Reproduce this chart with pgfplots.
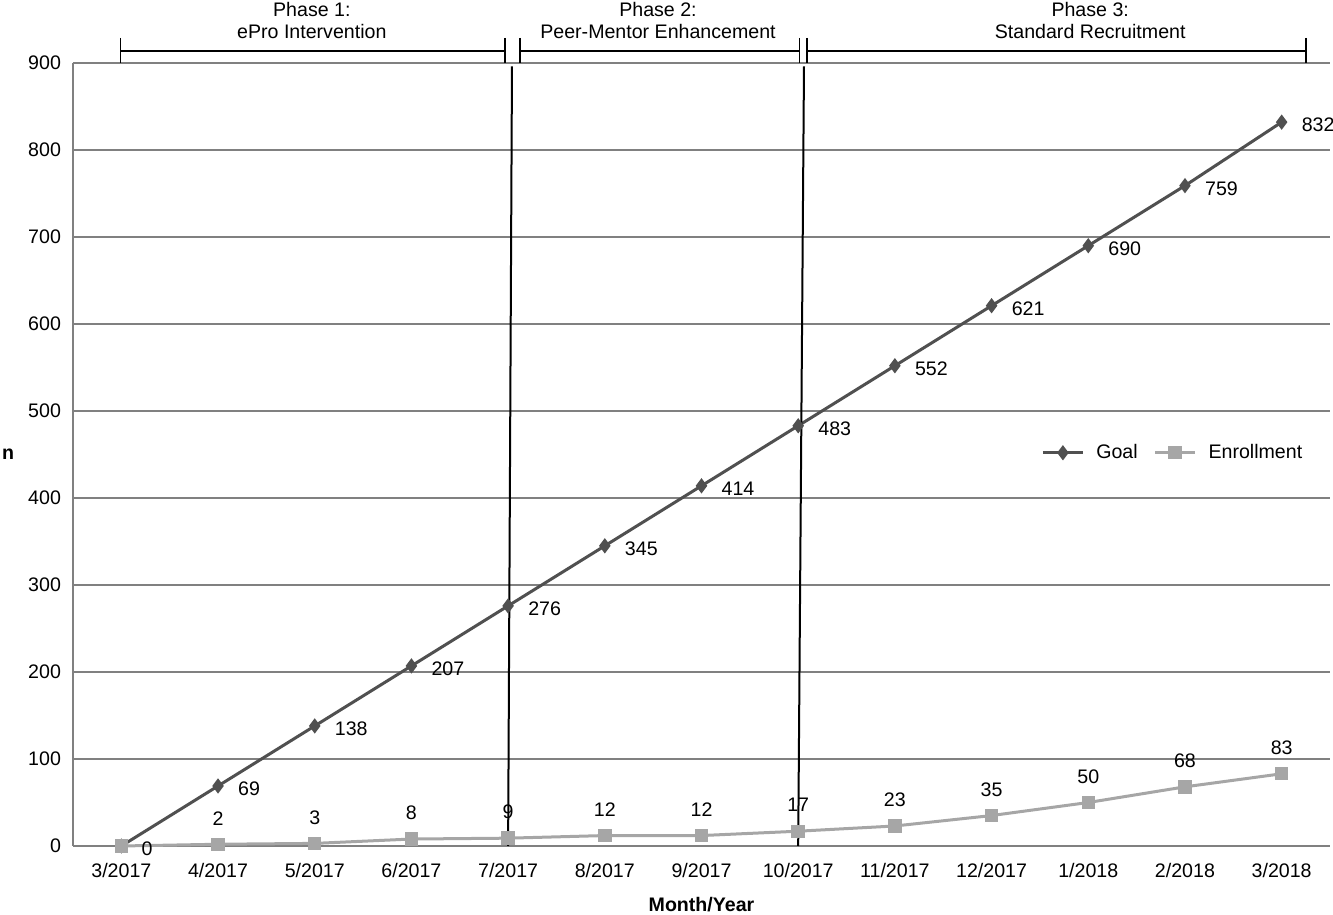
\documentclass[border=0pt]{standalone}
\usepackage{pgfplots}
\pgfplotsset{compat=1.18}
\usepackage{fontspec}
\setmainfont{Liberation Sans}
\definecolor{goalc}{HTML}{505050}
\definecolor{enrc}{HTML}{A6A6A6}
\definecolor{gridc}{HTML}{808080}
\begin{document}
\begin{tikzpicture}
\useasboundingbox (-36.5pt,-34.5pt) rectangle (630pt,423pt);
\begin{axis}[
  at={(0,0)}, anchor=south west,
  scale only axis, width=628.5pt, height=391.5pt,
  xmin=-0.5, xmax=12.5, ymin=0, ymax=900,
  xtick={0,...,12},
  xticklabels={3/2017,4/2017,5/2017,6/2017,7/2017,8/2017,9/2017,10/2017,11/2017,12/2017,1/2018,2/2018,3/2018},
  ytick={0,100,...,900},
  axis x line*=bottom, axis y line*=left,
  axis line style={gridc, line width=0.75pt, -},
  major tick length=0pt,
  ymajorgrids, grid style={gridc, line width=0.7pt},
  clip=false,
  font=\fontsize{9.8}{11}\selectfont,
  tick label style={font=\fontsize{9.8}{11}\selectfont},
  /pgf/number format/assume math mode=true,
  xticklabel style={anchor=center, yshift=-12pt},
  yticklabel style={anchor=east, xshift=-2.5pt},
  xlabel={\textbf{Month/Year}},
  xlabel style={at={(axis description cs:0.5,0)}, anchor=center, yshift=-29.5pt},
  legend style={at={(axis cs:9.45,452)}, anchor=west, draw=none, fill=none,
    legend columns=2, font=\fontsize{9.8}{11}\selectfont,
    /tikz/every even column/.append style={column sep=6pt},
    /tikz/every odd column/.append style={column sep=4pt}},
  legend image code/.code={\draw[mark repeat=2,mark phase=2] plot coordinates {(0cm,0cm) (0.35cm,0cm) (0.7cm,0cm)};},
  every node near coord/.append style={text=black, font=\fontsize{9.8}{11}\selectfont},
]
\addplot[goalc, line width=1.5pt, mark=diamond*, mark size=2.6pt, mark options={solid},
  nodes near coords, point meta=y,
  every node near coord/.append style={anchor=west, xshift=6pt, yshift=-1.5pt}]
  coordinates {(0,0) (1,69) (2,138) (3,207) (4,276) (5,345) (6,414) (7,483) (8,552) (9,621) (10,690) (11,759) (12,832)};
\addlegendentry{Goal}
\addplot[enrc, line width=1.5pt, mark=square*, mark size=2.6pt, mark options={solid}]
  coordinates {(0,0) (1,2) (2,3) (3,8) (4,9) (5,12) (6,12) (7,17) (8,23) (9,35) (10,50) (11,68) (12,83)};
\addlegendentry{Enrollment}
\addplot[draw=none, forget plot, nodes near coords, point meta=y,
  every node near coord/.append style={anchor=center, yshift=13pt}]
  coordinates {(1,2) (2,3) (3,8) (4,9) (5,12) (6,12) (7,17) (8,23) (9,35) (10,50) (11,68) (12,83)};
% y label
\node[font=\fontsize{9.8}{11}\selectfont\bfseries] at ([xshift=-32.5pt]axis description cs:0,0.5) {n};
% phase separators
\draw[black, line width=1pt] (axis cs:4,0) -- (axis cs:4.04,896);
\draw[black, line width=1pt] (axis cs:7,0) -- (axis cs:7.06,896);
% brackets
\draw[black, line width=0.8pt] ([yshift=12.5pt]axis cs:-0.01,900) -- (axis cs:-0.01,900);
\draw[black, line width=0.8pt] ([yshift=12.5pt]axis cs:3.97,900) -- (axis cs:3.97,900);
\draw[black, line width=0.8pt] ([yshift=6pt]axis cs:-0.01,900) -- ([yshift=6pt]axis cs:3.97,900);
\draw[black, line width=0.8pt] ([yshift=12.5pt]axis cs:4.12,900) -- (axis cs:4.12,900);
\draw[black, line width=0.8pt] ([yshift=12.5pt]axis cs:7.015,900) -- (axis cs:7.015,900);
\draw[black, line width=0.8pt] ([yshift=6pt]axis cs:4.12,900) -- ([yshift=6pt]axis cs:7.015,900);
\draw[black, line width=0.8pt] ([yshift=12.5pt]axis cs:7.09,900) -- (axis cs:7.09,900);
\draw[black, line width=0.8pt] ([yshift=12.5pt]axis cs:12.25,900) -- (axis cs:12.25,900);
\draw[black, line width=0.8pt] ([yshift=6pt]axis cs:7.09,900) -- ([yshift=6pt]axis cs:12.25,900);
\node[align=center, font=\fontsize{9.8}{11}\selectfont] at ([yshift=21pt]axis cs:1.97,900) {Phase 1:\\ePro Intervention};
\node[align=center, font=\fontsize{9.8}{11}\selectfont] at ([yshift=21pt]axis cs:5.55,900) {Phase 2:\\Peer-Mentor Enhancement};
\node[align=center, font=\fontsize{9.8}{11}\selectfont] at ([yshift=21pt]axis cs:10.02,900) {Phase 3:\\Standard Recruitment};
\end{axis}
\end{tikzpicture}
\end{document}
